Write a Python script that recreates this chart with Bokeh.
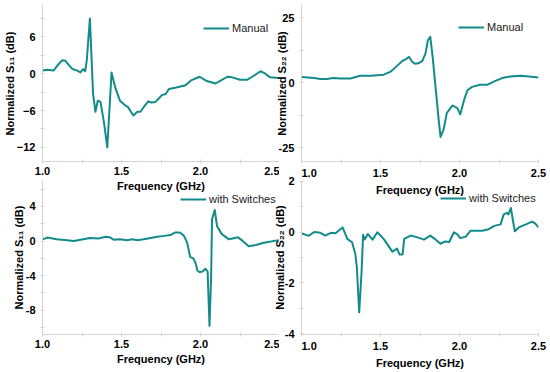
from bokeh.plotting import figure
from bokeh.models import FixedTicker, Legend, LegendItem, Range1d
from bokeh.layouts import column, row
from bokeh.embed import file_html
from bokeh.resources import INLINE

# ---------------- data ----------------
x_ticks = [1.0, 1.5, 2.0, 2.5]
x_tick_labels = ["1.0", "1.5", "2.0", "2.5"]
x_minor = [1.25, 1.75, 2.25]

f_s11_manual = [1.00, 1.03, 1.07, 1.10, 1.125, 1.145, 1.17, 1.19, 1.22, 1.24, 1.257, 1.27, 1.28, 1.30,
                1.32, 1.335, 1.35, 1.367, 1.39, 1.41, 1.437, 1.46, 1.49, 1.525, 1.54, 1.575, 1.60, 1.62,
                1.645, 1.67, 1.69, 1.715, 1.745, 1.755, 1.78, 1.80, 1.84, 1.905, 1.94, 1.995, 2.04, 2.095,
                2.13, 2.17, 2.20, 2.25, 2.295, 2.34, 2.38, 2.41, 2.44, 2.50]
v_s11_manual = [0.5, 0.65, 0.5, 1.5, 2.2, 2.1, 1.3, 0.75, 0.5, 0.2, 0.75, 0.4, 2.1, 9.0,
                -3.3, -6.2, -4.4, -4.6, -8.1, -12.0, 0.2, -2.2, -4.4, -5.2, -5.4, -6.8, -6.2, -6.2,
                -5.3, -4.5, -4.7, -4.6, -3.8, -3.5, -3.3, -2.5, -2.3, -1.9, -1.1, -0.5, -1.2, -1.6,
                -1.1, -0.5, -0.6, -1.0, -1.0, -0.3, 0.4, 0.0, -0.6, -0.7]

f_s22_manual = [1.00, 1.04, 1.08, 1.12, 1.16, 1.20, 1.25, 1.31, 1.37, 1.44, 1.52, 1.565, 1.605, 1.64,
                1.66, 1.68, 1.70, 1.72, 1.74, 1.765, 1.785, 1.80, 1.815, 1.83, 1.85, 1.87, 1.88, 1.90,
                1.92, 1.955, 1.985, 2.005, 2.03, 2.05, 2.08, 2.13, 2.175, 2.22, 2.27, 2.32, 2.385, 2.44, 2.50]
v_s22_manual = [2.2, 2.0, 1.8, 1.4, 1.4, 1.8, 1.6, 1.6, 2.7, 2.7, 3.1, 4.3, 6.5, 8.5,
                9.0, 10.0, 8.1, 7.3, 7.5, 8.4, 11.3, 16.4, 17.7, 10.0, -2.7, -15.4, -20.9, -17.9,
                -11.6, -8.8, -9.7, -12.2, -6.5, -2.9, -1.6, -0.8, -0.8, 0.5, 1.8, 2.4, 2.7, 2.4, 2.0]

f_s11_switch = [1.00, 1.03, 1.09, 1.155, 1.20, 1.24, 1.30, 1.355, 1.40, 1.43, 1.45, 1.49, 1.535, 1.57,
                1.60, 1.64, 1.685, 1.725, 1.77, 1.81, 1.84, 1.87, 1.895, 1.915, 1.935, 1.955, 1.97, 1.98,
                1.995, 2.015, 2.03, 2.045, 2.057, 2.067, 2.073, 2.09, 2.105, 2.135, 2.18, 2.23, 2.24,
                2.265, 2.305, 2.35, 2.40, 2.43, 2.475, 2.50]
v_s11_switch = [0.2, 0.4, 0.2, 0.1, 0.0, 0.15, 0.35, 0.3, 0.5, 0.4, 0.15, 0.2, 0.1, 0.2,
                0.1, 0.2, 0.35, 0.5, 0.6, 0.7, 1.0, 1.0, 0.6, -0.15, -1.85, -2.0, -2.6, -3.4,
                -3.6, -3.5, -3.2, -3.5, -9.8, -4.3, 2.5, 3.6, 1.7, 0.8, 0.2, 0.4, 0.4,
                0.05, -0.6, -0.45, -0.2, -0.1, 0.05, 0.1]

f_s22_switch = [1.00, 1.045, 1.08, 1.12, 1.15, 1.185, 1.215, 1.26, 1.29, 1.32, 1.34, 1.35, 1.365, 1.38,
                1.39, 1.40, 1.42, 1.45, 1.48, 1.52, 1.575, 1.605, 1.62, 1.64, 1.65, 1.69, 1.73, 1.775,
                1.815, 1.85, 1.88, 1.91, 1.935, 1.965, 1.985, 2.005, 2.04, 2.07, 2.145, 2.185, 2.22, 2.26,
                2.28, 2.30, 2.31, 2.325, 2.35, 2.375, 2.42, 2.46, 2.48, 2.50]
v_s22_switch = [-0.05, -0.15, 0.0, -0.03, -0.14, -0.03, -0.05, 0.18, -0.27, -0.4, -0.84, -1.35, -3.15, -1.6,
                -0.11, -0.29, -0.08, -0.3, -0.01, -0.27, -0.77, -0.65, -0.88, -0.88, -0.27, -0.14, -0.2, -0.3,
                -0.14, -0.3, -0.46, -0.37, -0.39, -0.01, -0.08, -0.24, -0.18, 0.05, 0.05, 0.11, 0.24, 0.3,
                0.69, 0.75, 0.69, 0.94, 0.03, 0.18, 0.3, 0.41, 0.33, 0.18]

y_ticks_tl = [-12, -6, 0, 6]
y_labels_tl = ["\u221212", "\u22126", "0", "6"]
y_minor_tl = [-9, -3, 3, 9]
y_ticks_tr = [-25, 0, 25]
y_labels_tr = ["-25", "0", "25"]
y_minor_tr = [-12.5, 12.5]
y_ticks_bl = [-8, -4, 0, 4]
y_labels_bl = ["-8", "-4", "0", "4"]
y_minor_bl = [-10, -6, -2, 2, 6]
y_ticks_br = [-4, -2, 0, 2]
y_labels_br = ["-4", "-2", "0", "2"]
y_minor_br = [-3, -1, 1]

TEAL = "#138b8b"
AXC = "#d4d4d4"
FONT = "Liberation Sans"


def make(width, height, bl, bt, bb, br, yr, f, v, ylabel, yt, ytl, ym, legend_text, legend_loc,
         ylab_standoff, shift_first_x=False):
    p = figure(width=width, height=height, x_range=Range1d(1.0, 2.5), y_range=Range1d(*yr),
               output_backend="svg", toolbar_location=None,
               min_border_left=bl, min_border_top=bt, min_border_bottom=bb, min_border_right=br)
    p.grid.visible = False
    p.outline_line_color = None
    p.background_fill_alpha = 0
    p.border_fill_alpha = 0
    r = p.line(f, v, line_color=TEAL, line_width=2, line_join="round")

    p.xaxis.ticker = FixedTicker(ticks=x_ticks, minor_ticks=x_minor)
    xo = {t: l for t, l in zip(x_ticks, x_tick_labels)}
    if shift_first_x:
        xo[x_ticks[0]] = "\u00a0" * 5 + x_tick_labels[0]
    p.xaxis.major_label_overrides = xo
    p.yaxis.ticker = FixedTicker(ticks=yt, minor_ticks=ym)
    p.yaxis.major_label_overrides = {t: l for t, l in zip(yt, ytl)}
    p.xaxis.axis_label = "Frequency (GHz)"
    p.yaxis.axis_label = ylabel

    for ax in (p.xaxis[0], p.yaxis[0]):
        ax.axis_line_color = AXC
        ax.major_tick_line_color = AXC
        ax.minor_tick_line_color = AXC
        ax.major_tick_in = 2
        ax.major_tick_out = 2
        ax.minor_tick_in = 2
        ax.minor_tick_out = 2
        ax.major_label_text_font = FONT
        ax.major_label_text_font_style = "bold"
        ax.major_label_text_font_size = "11px"
        ax.major_label_text_color = "#000000"
        ax.axis_label_text_font = FONT
        ax.axis_label_text_font_style = "bold"
        ax.axis_label_text_font_size = "11px"
        ax.axis_label_text_color = "#000000"
    p.xaxis.major_label_standoff = 3
    p.xaxis.axis_label_standoff = 2
    p.yaxis.major_label_standoff = 5
    p.yaxis.axis_label_standoff = ylab_standoff

    leg = Legend(items=[LegendItem(label=legend_text, renderers=[r])], location=legend_loc,
                 padding=0, margin=0, spacing=0, glyph_width=26, glyph_height=12,
                 label_height=12, label_standoff=3, border_line_alpha=0, background_fill_alpha=0,
                 label_text_font=FONT, label_text_font_size="11px", label_text_color="#1a1a1a")
    p.add_layout(leg)
    return p


p1 = make(279, 198, 42, 5, 36, 0, (-14.3, 11.1), f_s11_manual, v_s11_manual,
          "Normalized S\u2081\u2081 (dB)", y_ticks_tl, y_labels_tl, y_minor_tl, "Manual", (161, 127), -2)
p2 = make(300, 198, 51, 5, 36, 12, (-30.4, 29.8), f_s22_manual, v_s22_manual,
          "Normalized S\u2082\u2082 (dB)", y_ticks_tr, y_labels_tr, y_minor_tr, "Manual", (157, 128), -12,
          shift_first_x=True)
p3 = make(279, 201, 42, 10, 33, 0, (-10.8, 7.0), f_s11_switch, v_s11_switch,
          "Normalized S\u2081\u2081 (dB)", y_ticks_bl, y_labels_bl, y_minor_bl, "with Switches", (138, 129), -2)
p4 = make(300, 201, 51, 10, 33, 12, (-4.02, 2.02), f_s22_switch, v_s22_switch,
          "Normalized S\u2082\u2082 (dB)", y_ticks_br, y_labels_br, y_minor_br, "with Switches", (139, 130), -4,
          shift_first_x=True)

p2.margin = (0, 0, 0, -29)
p4.margin = (0, 0, 0, -29)

r1 = row(p1, p2)
r2 = row(p3, p4, margin=(-28, 0, 0, 0))
root = column(r1, r2)

open("out.html", "w").write(file_html(root, INLINE))
